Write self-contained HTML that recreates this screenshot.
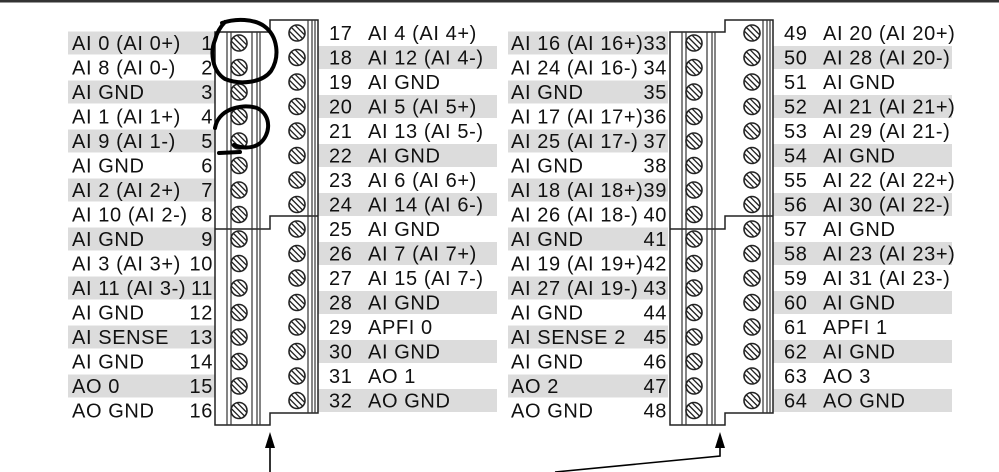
<!DOCTYPE html>
<html><head><meta charset="utf-8"><style>
html,body{margin:0;padding:0;background:#fff;width:999px;height:472px;overflow:hidden}
svg{display:block}
text{font-family:"Liberation Sans",Arial,sans-serif;font-size:20px;letter-spacing:0.6px;fill:#111}
.n{text-anchor:end}
</style></head><body>
<svg width="999" height="472" viewBox="0 0 999 472" xmlns="http://www.w3.org/2000/svg">
<defs>
<g id="s"><circle r="8" fill="#fff" stroke="#222" stroke-width="1.6"/><line x1="-5.5" y1="-5.5" x2="5.5" y2="5.5" stroke="#222" stroke-width="1.3"/><line x1="-1.5" y1="-7.3" x2="7.3" y2="1.5" stroke="#222" stroke-width="1.3"/><line x1="-7.3" y1="-1.5" x2="1.5" y2="7.3" stroke="#222" stroke-width="1.3"/></g>
<g id="conn">
<path d="M215,32 H270 V20 H318 V413 H270 V425 H215 Z" fill="#fff" stroke="#222" stroke-width="1.5"/>
<path d="M215,229 H270 V216 H318" fill="none" stroke="#222" stroke-width="1.5"/>
<g stroke="#333" stroke-width="1.2">
<line x1="227" y1="32" x2="227" y2="425"/><line x1="231" y1="32" x2="231" y2="425"/>
<line x1="252" y1="32" x2="252" y2="425"/><line x1="257" y1="32" x2="257" y2="425"/><line x1="260" y1="32" x2="260" y2="425"/>
<line x1="308" y1="20" x2="308" y2="413"/><line x1="312" y1="20" x2="312" y2="413"/><line x1="315" y1="20" x2="315" y2="413"/>
</g>
<use href="#s" x="239" y="43"/><use href="#s" x="239" y="67.5"/><use href="#s" x="239" y="92"/><use href="#s" x="239" y="116.5"/><use href="#s" x="239" y="141"/><use href="#s" x="239" y="165.5"/><use href="#s" x="239" y="190"/><use href="#s" x="239" y="214.5"/><use href="#s" x="239" y="239"/><use href="#s" x="239" y="263.5"/><use href="#s" x="239" y="288"/><use href="#s" x="239" y="312.5"/><use href="#s" x="239" y="337"/><use href="#s" x="239" y="361.5"/><use href="#s" x="239" y="386"/><use href="#s" x="239" y="410.5"/>
<use href="#s" x="297" y="33"/><use href="#s" x="297" y="57.5"/><use href="#s" x="297" y="82"/><use href="#s" x="297" y="106.5"/><use href="#s" x="297" y="131"/><use href="#s" x="297" y="155.5"/><use href="#s" x="297" y="180"/><use href="#s" x="297" y="204.5"/><use href="#s" x="297" y="229"/><use href="#s" x="297" y="253.5"/><use href="#s" x="297" y="278"/><use href="#s" x="297" y="302.5"/><use href="#s" x="297" y="327"/><use href="#s" x="297" y="351.5"/><use href="#s" x="297" y="376"/><use href="#s" x="297" y="400.5"/>
</g>
<g id="lb" fill="#dcdcdc">
<rect x="0" y="31.5" width="1" height="23"/><rect x="0" y="80.5" width="1" height="23"/><rect x="0" y="129.5" width="1" height="23"/><rect x="0" y="178.5" width="1" height="23"/><rect x="0" y="227.5" width="1" height="23"/><rect x="0" y="276.5" width="1" height="23"/><rect x="0" y="325.5" width="1" height="23"/><rect x="0" y="374.5" width="1" height="23"/>
</g>
<g id="rb" fill="#dcdcdc">
<rect x="0" y="46" width="1" height="23"/><rect x="0" y="95" width="1" height="23"/><rect x="0" y="144" width="1" height="23"/><rect x="0" y="193" width="1" height="23"/><rect x="0" y="242" width="1" height="23"/><rect x="0" y="291" width="1" height="23"/><rect x="0" y="340" width="1" height="23"/><rect x="0" y="389" width="1" height="23"/>
</g>
</defs>
<rect x="0" y="0" width="999" height="2.5" fill="#333"/>
<use href="#lb" transform="translate(68,0) scale(147,1)"/>
<use href="#lb" transform="translate(508,0) scale(160,1)"/>
<use href="#rb" transform="translate(318,0) scale(179,1)"/>
<use href="#rb" transform="translate(773,0) scale(179,1)"/>
<use href="#conn"/>
<use href="#conn" x="455"/>
<g>
<text x="72" y="50">AI 0 (AI 0+)</text><text x="72" y="74.5">AI 8 (AI 0-)</text><text x="72" y="99">AI GND</text><text x="72" y="123.5">AI 1 (AI 1+)</text><text x="72" y="148">AI 9 (AI 1-)</text><text x="72" y="172.5">AI GND</text><text x="72" y="197">AI 2 (AI 2+)</text><text x="72" y="221.5">AI 10 (AI 2-)</text><text x="72" y="246">AI GND</text><text x="72" y="270.5">AI 3 (AI 3+)</text><text x="72" y="295">AI 11 (AI 3-)</text><text x="72" y="319.5">AI GND</text><text x="72" y="344">AI SENSE</text><text x="72" y="368.5">AI GND</text><text x="72" y="393">AO 0</text><text x="72" y="417.5">AO GND</text>
<text class="n" x="213" y="50">1</text><text class="n" x="213" y="74.5">2</text><text class="n" x="213" y="99">3</text><text class="n" x="213" y="123.5">4</text><text class="n" x="213" y="148">5</text><text class="n" x="213" y="172.5">6</text><text class="n" x="213" y="197">7</text><text class="n" x="213" y="221.5">8</text><text class="n" x="213" y="246">9</text><text class="n" x="213" y="270.5">10</text><text class="n" x="213" y="295">11</text><text class="n" x="213" y="319.5">12</text><text class="n" x="213" y="344">13</text><text class="n" x="213" y="368.5">14</text><text class="n" x="213" y="393">15</text><text class="n" x="213" y="417.5">16</text>
<text x="329" y="40">17</text><text x="329" y="64.5">18</text><text x="329" y="89">19</text><text x="329" y="113.5">20</text><text x="329" y="138">21</text><text x="329" y="162.5">22</text><text x="329" y="187">23</text><text x="329" y="211.5">24</text><text x="329" y="236">25</text><text x="329" y="260.5">26</text><text x="329" y="285">27</text><text x="329" y="309.5">28</text><text x="329" y="334">29</text><text x="329" y="358.5">30</text><text x="329" y="383">31</text><text x="329" y="407.5">32</text>
<text x="368" y="40">AI 4 (AI 4+)</text><text x="368" y="64.5">AI 12 (AI 4-)</text><text x="368" y="89">AI GND</text><text x="368" y="113.5">AI 5 (AI 5+)</text><text x="368" y="138">AI 13 (AI 5-)</text><text x="368" y="162.5">AI GND</text><text x="368" y="187">AI 6 (AI 6+)</text><text x="368" y="211.5">AI 14 (AI 6-)</text><text x="368" y="236">AI GND</text><text x="368" y="260.5">AI 7 (AI 7+)</text><text x="368" y="285">AI 15 (AI 7-)</text><text x="368" y="309.5">AI GND</text><text x="368" y="334">APFI 0</text><text x="368" y="358.5">AI GND</text><text x="368" y="383">AO 1</text><text x="368" y="407.5">AO GND</text>
<text x="511" y="50">AI 16 (AI 16+)</text><text x="511" y="74.5">AI 24 (AI 16-)</text><text x="511" y="99">AI GND</text><text x="511" y="123.5">AI 17 (AI 17+)</text><text x="511" y="148">AI 25 (AI 17-)</text><text x="511" y="172.5">AI GND</text><text x="511" y="197">AI 18 (AI 18+)</text><text x="511" y="221.5">AI 26 (AI 18-)</text><text x="511" y="246">AI GND</text><text x="511" y="270.5">AI 19 (AI 19+)</text><text x="511" y="295">AI 27 (AI 19-)</text><text x="511" y="319.5">AI GND</text><text x="511" y="344">AI SENSE 2</text><text x="511" y="368.5">AI GND</text><text x="511" y="393">AO 2</text><text x="511" y="417.5">AO GND</text>
<text class="n" x="667" y="50">33</text><text class="n" x="667" y="74.5">34</text><text class="n" x="667" y="99">35</text><text class="n" x="667" y="123.5">36</text><text class="n" x="667" y="148">37</text><text class="n" x="667" y="172.5">38</text><text class="n" x="667" y="197">39</text><text class="n" x="667" y="221.5">40</text><text class="n" x="667" y="246">41</text><text class="n" x="667" y="270.5">42</text><text class="n" x="667" y="295">43</text><text class="n" x="667" y="319.5">44</text><text class="n" x="667" y="344">45</text><text class="n" x="667" y="368.5">46</text><text class="n" x="667" y="393">47</text><text class="n" x="667" y="417.5">48</text>
<text x="784" y="40">49</text><text x="784" y="64.5">50</text><text x="784" y="89">51</text><text x="784" y="113.5">52</text><text x="784" y="138">53</text><text x="784" y="162.5">54</text><text x="784" y="187">55</text><text x="784" y="211.5">56</text><text x="784" y="236">57</text><text x="784" y="260.5">58</text><text x="784" y="285">59</text><text x="784" y="309.5">60</text><text x="784" y="334">61</text><text x="784" y="358.5">62</text><text x="784" y="383">63</text><text x="784" y="407.5">64</text>
<text x="823" y="40">AI 20 (AI 20+)</text><text x="823" y="64.5">AI 28 (AI 20-)</text><text x="823" y="89">AI GND</text><text x="823" y="113.5">AI 21 (AI 21+)</text><text x="823" y="138">AI 29 (AI 21-)</text><text x="823" y="162.5">AI GND</text><text x="823" y="187">AI 22 (AI 22+)</text><text x="823" y="211.5">AI 30 (AI 22-)</text><text x="823" y="236">AI GND</text><text x="823" y="260.5">AI 23 (AI 23+)</text><text x="823" y="285">AI 31 (AI 23-)</text><text x="823" y="309.5">AI GND</text><text x="823" y="334">APFI 1</text><text x="823" y="358.5">AI GND</text><text x="823" y="383">AO 3</text><text x="823" y="407.5">AO GND</text>
</g>
<path d="M222,23 C236,18 254,19 264,26 C278,36 280,57 271,71 C262,83 240,85 225,79 C212,71 210,52 215,40 C217,32 221,26 225,22" fill="none" stroke="#000" stroke-width="4" stroke-linecap="round"/>
<path d="M215,128 C218,110 240,103 257,108 C272,115 271,135 259,144 C251,149 241,148 234,145 M219,153 L240,152" fill="none" stroke="#000" stroke-width="4" stroke-linecap="round"/>
<line x1="270" y1="446" x2="270" y2="472" stroke="#000" stroke-width="1.6"/>
<polygon points="270,432 265,448 275,448" fill="#000"/>
<polyline points="555,472 720,456 720,446" fill="none" stroke="#000" stroke-width="1.6"/>
<polygon points="720,432 715,448 725,448" fill="#000"/>
</svg>
</body></html>
